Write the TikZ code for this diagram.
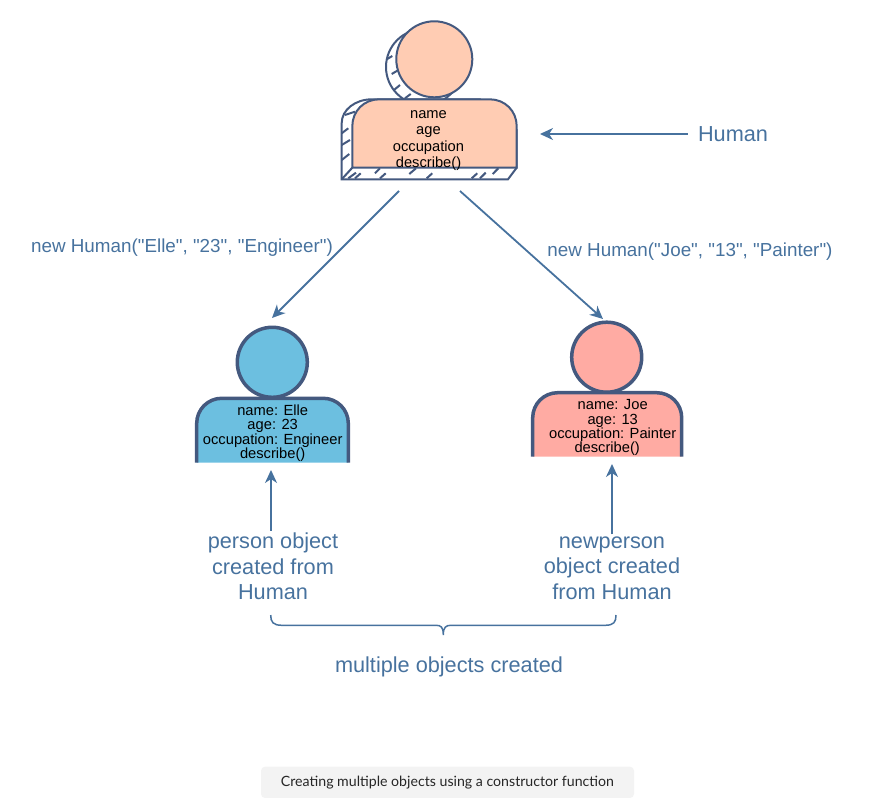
\documentclass[tikz,border=0pt]{standalone}
\usepackage{fontspec}
\setmainfont{Liberation Sans}
\newfontfamily\quotefont{Liberation Sans}
\newfontfamily\captionfont{Lato}
\usetikzlibrary{arrows.meta}

\definecolor{lineblue}{HTML}{44597F}
\definecolor{labelblue}{HTML}{47729E}
\definecolor{humanfill}{HTML}{FFCCB3}
\definecolor{ellefill}{HTML}{6CBFE0}
\definecolor{joefill}{HTML}{FFABA3}
\definecolor{captionfill}{HTML}{F3F3F3}

\tikzset{
    arrowline/.style={draw=labelblue,line width=1.8pt,-{Stealth[length=13pt,width=12pt,inset=4pt]}},
    bluelabel/.style={text=labelblue,font=\fontsize{21.7}{25.5}\selectfont,align=center,inner sep=2pt},
    newlabel/.style={text=labelblue,font=\quotefont\fontsize{18.83}{22}\selectfont,inner sep=0pt},
    bodytext/.style={font=\fontsize{14.7}{14.4}\selectfont,align=center,text=black,inner sep=0pt},
    sketchline/.style={draw=lineblue,line width=2pt},
    personline/.style={draw=lineblue,line width=3.5pt}
}

\begin{document}
\begin{tikzpicture}[x=1pt,y=-1pt]
        \useasboundingbox (0,0) rectangle (884,798);

        % Paso 1: Figura trasera de Human con su rayado
        \draw[sketchline,fill=white] (424,67) circle[radius=38];
        \draw[sketchline,fill=white] (508,179.3) -- (341.7,179.3) -- (341.7,123) .. controls (341.7,110) and (355,99.3) .. (372,99.3) -- (480,99.3) -- (516.7,130) -- (516.7,167.7) -- cycle;
        \foreach \xa/\ya/\xb/\yb in {386.7/59.3/392.3/56,391.7/74/397.3/70.7,394/90/400/85,405/98.3/410.7/94,
            345/115/355/111.7,341.7/133.3/348.3/128.3,341.7/145/350/140,341.7/160/349.3/154,
            348.3/178.3/356/172.7,355/178.3/360.7/173.3,375/173.3/380/168.3,380/178.3/385.7/173.3,
            409.3/174/416/168.3,426.7/178.3/432.3/173.3,471.7/178.3/477.3/173.3,480/178.3/485.7/172.7,492.7/174/498.3/168.3}
            \draw[sketchline] (\xa,\ya) -- (\xb,\yb);
        \draw[sketchline] (341.7,179.3) -- (352.3,167.7);

        % Paso 2: Figura frontal de Human
        \draw[sketchline,fill=humanfill] (434.3,59.3) circle[radius=38];
        \draw[sketchline,fill=humanfill] (352.3,167.7) -- (352.3,126.3) .. controls (352.3,111) and (364,99.3) .. (379.3,99.3) -- (489.7,99.3) .. controls (505,99.3) and (516.7,111) .. (516.7,126.3) -- (516.7,167.7) -- cycle;
        \node[bodytext] (humantext) at (428.5,141) {name\\[1.2pt]age\\[2.5pt]occupation\\[2pt]describe()};

        % Paso 3: Objetos Elle y Joe
        \filldraw[personline,fill=ellefill] (272.3,362.3) circle[radius=35];
        \filldraw[personline,fill=ellefill,rounded corners=25] (196.7,462.7) -- (196.7,398.3) -- (348.3,398.3) -- (348.3,462.7);
        \node[bodytext] (elletext) at (272.7,433) {name: Elle\\age: 23\\occupation: Engineer\\describe()};

        \filldraw[personline,fill=joefill] (606.7,357.2) circle[radius=35];
        \filldraw[personline,fill=joefill,rounded corners=25] (532.7,456.7) -- (532.7,392.7) -- (681.7,392.7) -- (681.7,456.7);
        \node[bodytext] (joetext) at (612.7,427.8) {name: Joe\\age: 13\\occupation: Painter\\describe()\hspace*{11pt}};

        % Paso 4: Leyendas azules
        \node[bluelabel,inner xsep=10pt] (humanlabel) at (733,134) {Human};
        \node[newlabel] (ellelabel) at (182,248) {new Human("Elle", "23", "Engineer")};
        \node[newlabel] (joelabel) at (690,252) {new Human("Joe", "13", "Painter")};
        \node[bluelabel] (personlabel) at (273,566.5) {person object\\created from\\Human};
        \node[bluelabel] (newpersonlabel) at (612,568) {newperson\\object created\\from Human};
        \node[bluelabel] (multiplelabel) at (449,667) {multiple objects created};

        % Paso 5: Extremos libres de las flechas
        \coordinate (humanport) at (540,134);
        \coordinate (humanleft) at (399,191);
        \coordinate (humanright) at (460,191);
        \coordinate (elletop) at (272,318);
        \coordinate (joetop) at (603,319);
        \coordinate (ellefoot) at (271,470);
        \coordinate (joefoot) at (612,464);

        % Paso 6: Flechas
        \draw[arrowline] (humanlabel.west) -- (humanport);
        \draw[arrowline] (humanleft) -- (elletop);
        \draw[arrowline] (humanright) -- (joetop);
        \draw[arrowline] (ellefoot |- personlabel.north) -- (ellefoot);
        \draw[arrowline] (newpersonlabel.north) -- (joefoot);

        % Paso 7: Llave inferior
        \coordinate (braceleft) at (270.7,615);
        \coordinate (braceright) at (616,615);
        \draw[draw=labelblue,line width=1.5pt] (braceleft) .. controls (270.7,622) and (273,625.3) .. (282,625.3) -- (436,625.3) .. controls (441,625.3) and (443.3,627) .. (443.3,635) .. controls (443.3,627) and (446,625.3) .. (451,625.3) -- (605,625.3) .. controls (614,625.3) and (616,622) .. (braceright);

        % Paso 8: Pie de figura
        \node[fill=captionfill,rounded corners=4pt,minimum width=373pt,minimum height=31.3pt,inner sep=0pt,font=\captionfont\fontsize{14.15}{16}\selectfont,text=black!85] (captionbox) at (447.5,782.35) {Creating multiple objects using a constructor function};
\end{tikzpicture}
\end{document}
